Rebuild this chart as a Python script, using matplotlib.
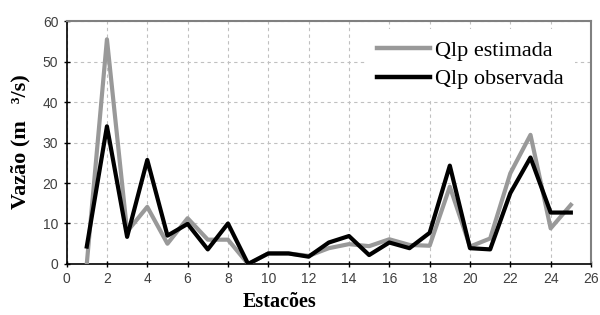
import matplotlib
matplotlib.use("Agg")
import matplotlib.pyplot as plt

estacoes = list(range(1, 26))
qlp_estimada = [0.0, 55.5, 8.0, 14.1, 5.0, 11.3, 6.0, 6.0, 0.0, 2.6, 2.6, 2.0, 3.9, 4.9, 4.4,
                6.1, 4.7, 4.5, 19.1, 4.3, 6.3, 22.4, 31.9, 8.8, 14.6]
qlp_observada = [4.3, 34.0, 6.7, 25.7, 7.0, 9.9, 3.6, 10.0, 0.0, 2.6, 2.6, 1.8, 5.3, 6.9, 2.2,
                 5.3, 3.9, 7.7, 24.3, 3.9, 3.6, 17.5, 26.3, 12.7, 12.7]
xticks = list(range(0, 27, 2))
yticks = list(range(0, 61, 10))

fig = plt.figure(figsize=(6.0, 3.15), dpi=100)
ax = fig.add_axes([0.111, 0.162, 0.874, 0.771])

ax.plot(estacoes, qlp_estimada, color="#999999", lw=3.0, label="Qlp estimada", zorder=3)
ax.plot(estacoes, qlp_observada, color="#000000", lw=3.0, label="Qlp observada", zorder=4)

ax.set_xlim(0, 26)
ax.set_ylim(0, 60)
ax.set_xticks(xticks)
ax.set_yticks(yticks)
ax.grid(True, color="#c0c0c0", linestyle=(0, (3, 3)), lw=0.8)
ax.set_axisbelow(True)

for s in ["left", "bottom"]:
    ax.spines[s].set_color("black")
    ax.spines[s].set_linewidth(1.2)
for s in ["top", "right"]:
    ax.spines[s].set_color("#808080")
    ax.spines[s].set_linewidth(1.5)

ax.tick_params(axis="both", direction="inout", length=5, width=1, color="black",
               labelsize=10, labelcolor="#404040")
for lbl in ax.get_xticklabels() + ax.get_yticklabels():
    lbl.set_fontfamily("Liberation Sans")

fig.text(280 / 600, 1 - 302 / 315, "Estacões", ha="center", va="center",
         fontfamily="Liberation Serif", fontweight="bold", fontsize=14.5)
fig.text(20.5 / 600, 1 - 142 / 315, "Vazão (m   ³/s)", ha="center", va="center", rotation=90,
         fontfamily="Liberation Serif", fontweight="bold", fontsize=16)

leg = ax.legend(loc="upper left", bbox_to_anchor=(0.571, 0.968), borderaxespad=0,
                frameon=True, fancybox=False,
                prop={"family": "Liberation Serif", "size": 16}, handlelength=2.4,
                handletextpad=0.22, labelspacing=0.37, borderpad=0.5)
leg.get_frame().set_edgecolor("none")
leg.get_frame().set_facecolor("white")
leg.get_frame().set_alpha(1.0)
for h in leg.get_lines():
    h.set_linewidth(3.2)

fig.savefig("out.png", dpi=100)
